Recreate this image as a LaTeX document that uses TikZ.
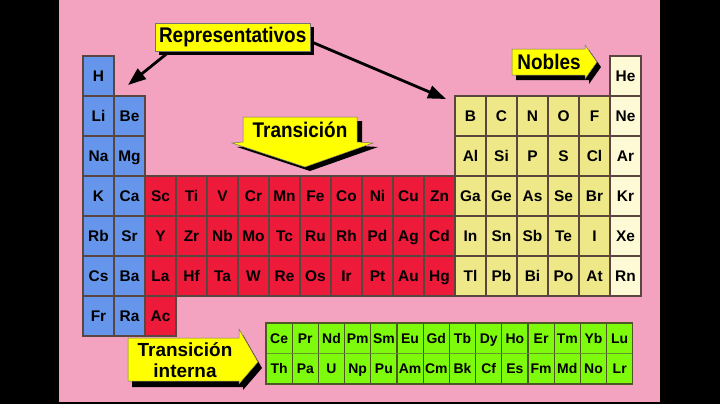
\documentclass[tikz,border=0pt]{standalone}
\usepackage{graphicx}
\usepackage{fontspec}
\setmainfont{Liberation Sans}
\usetikzlibrary{arrows.meta}
\definecolor{pinkbg}{RGB}{243,163,192}
\definecolor{bluec}{RGB}{102,150,236}
\definecolor{redc}{RGB}{238,26,58}
\definecolor{yelc}{RGB}{238,232,136}
\definecolor{noblec}{RGB}{255,250,214}
\definecolor{greenc}{RGB}{126,250,12}
\definecolor{cellline}{RGB}{90,70,62}
\definecolor{lanline}{RGB}{78,88,36}
\definecolor{lanmid}{RGB}{100,150,40}
\definecolor{labyel}{RGB}{255,255,0}
\newcommand\pelem[4]{\node[cell,fill=#4] (#1) at ({83+31*(#2-1)},{56+40*(#3-1)}) {#1};}
\newcommand\plan[3]{\node[lancell] (#1) at ({266+26.2*(#2-1)},{323+30.5*(#3-1)}) {#1};}
\newcommand\tallt[1]{\scalebox{1}[1.12]{#1}}
\begin{document}
\begin{tikzpicture}[x=1bp,y=-1bp,
  cell/.style={draw=cellline,line width=1.4bp,minimum width=31bp,minimum height=40bp,
    inner sep=0pt,outer sep=0pt,anchor=north west,text height=11bp,text depth=0pt,
    font=\bfseries\fontsize{15.5}{15.5}\selectfont},
  lancell/.style={draw=lanline,fill=greenc,line width=1.2bp,minimum width=26.2bp,minimum height=30.5bp,
    inner sep=0pt,outer sep=0pt,anchor=north west,text height=10bp,text depth=0pt,
    font=\bfseries\fontsize{14}{14}\selectfont},
  labtext/.style={font=\bfseries\fontsize{19}{20}\selectfont,text=black,inner sep=0pt,align=center},
  bigarrow/.style={draw=black,line width=2.8bp,-{Triangle[length=18bp,width=13bp]}},
  shadowc/.style={fill=black},
  yelfill/.style={fill=labyel,draw=black!55,line width=0.5bp}]
% background
\fill[black] (0,0) rectangle (720,404);
\fill[pinkbg] (59,0) rectangle (660,402);
\useasboundingbox (0,0) rectangle (720,404);
% elements: row 1
\pelem{H}{1}{1}{bluec}
\pelem{He}{18}{1}{noblec}
% row 2
\pelem{Li}{1}{2}{bluec}\pelem{Be}{2}{2}{bluec}
\foreach \s [count=\i from 13] in {B,C,N,O,F} {\pelem{\s}{\i}{2}{yelc}}
\pelem{Ne}{18}{2}{noblec}
% row 3
\pelem{Na}{1}{3}{bluec}\pelem{Mg}{2}{3}{bluec}
\foreach \s [count=\i from 13] in {Al,Si,P,S,Cl} {\pelem{\s}{\i}{3}{yelc}}
\pelem{Ar}{18}{3}{noblec}
% row 4
\pelem{K}{1}{4}{bluec}\pelem{Ca}{2}{4}{bluec}
\foreach \s [count=\i from 3] in {Sc,Ti,V,Cr,Mn,Fe,Co,Ni,Cu,Zn} {\pelem{\s}{\i}{4}{redc}}
\foreach \s [count=\i from 13] in {Ga,Ge,As,Se,Br} {\pelem{\s}{\i}{4}{yelc}}
\pelem{Kr}{18}{4}{noblec}
% row 5
\pelem{Rb}{1}{5}{bluec}\pelem{Sr}{2}{5}{bluec}
\foreach \s [count=\i from 3] in {Y,Zr,Nb,Mo,Tc,Ru,Rh,Pd,Ag,Cd} {\pelem{\s}{\i}{5}{redc}}
\foreach \s [count=\i from 13] in {In,Sn,Sb,Te,I} {\pelem{\s}{\i}{5}{yelc}}
\pelem{Xe}{18}{5}{noblec}
% row 6
\pelem{Cs}{1}{6}{bluec}\pelem{Ba}{2}{6}{bluec}
\foreach \s [count=\i from 3] in {La,Hf,Ta,W,Re,Os,Ir,Pt,Au,Hg} {\pelem{\s}{\i}{6}{redc}}
\foreach \s [count=\i from 13] in {Tl,Pb,Bi,Po,At} {\pelem{\s}{\i}{6}{yelc}}
\pelem{Rn}{18}{6}{noblec}
% row 7
\pelem{Fr}{1}{7}{bluec}\pelem{Ra}{2}{7}{bluec}\pelem{Ac}{3}{7}{redc}
% inner transition
\foreach \s [count=\i] in {Ce,Pr,Nd,Pm,Sm,Eu,Gd,Tb,Dy,Ho,Er,Tm,Yb,Lu} {\plan{\s}{\i}{1}}
\foreach \s [count=\i] in {Th,Pa,U,Np,Pu,Am,Cm,Bk,Cf,Es,Fm,Md,No,Lr} {\plan{\s}{\i}{2}}
\draw[lanmid,line width=0.8bp] (Ce.south west) -- (Lu.south east);
\draw[lanline,line width=1.2bp] (Ce.north west) rectangle (Lr.south east);
% Representativos label and its arrows
\coordinate (repL) at (128,85);
\coordinate (repR) at (446,99);
\node[labtext,minimum width=155bp,minimum height=28bp,anchor=north west] (rep) at (155,23) {\phantom{Representativos}};
\draw[bigarrow] ([xshift=22bp,yshift=6bp]rep.south west) -- (repL);
\draw[bigarrow] ([xshift=-10bp]rep.east) -- (repR);
\fill[shadowc] ([xshift=4bp,yshift=-4bp]rep.north west) rectangle ([xshift=4bp,yshift=-4bp]rep.south east);
\filldraw[yelfill] (rep.north west) rectangle (rep.south east);
\node[labtext] at (rep.center) {\tallt{Representativos}};
% Transicion block arrow
\fill[shadowc,shift={(5,4)}] (243,117) -- (357,117) -- (357,142) -- (373,143) -- (305,167) -- (232,143) -- (243,142) -- cycle;
\filldraw[yelfill] (243,117) -- (357,117) -- (357,142) -- (373,143) -- (305,167) -- (232,143) -- (243,142) -- cycle;
\node[labtext] (trans) at (300,130) {\tallt{Transición}};
% Nobles block arrow
\fill[shadowc,shift={(4,5)}] (512,49) -- (585,49) -- (585,45) -- (597,62) -- (585,79) -- (585,75) -- (512,75) -- cycle;
\filldraw[yelfill] (512,49) -- (585,49) -- (585,45) -- (597,62) -- (585,79) -- (585,75) -- (512,75) -- cycle;
\node[labtext] (nob) at (549,62) {\tallt{Nobles}};
% Transicion interna block arrow
\fill[shadowc,shift={(4,6)}] (128,338) -- (239,338) -- (239,329) -- (258,362) -- (239,384) -- (239,381) -- (128,381) -- cycle;
\filldraw[yelfill] (128,338) -- (239,338) -- (239,329) -- (258,362) -- (239,384) -- (239,381) -- (128,381) -- cycle;
\node[labtext] (tint) at (185,360) {Transición\\[1bp]interna};
\end{tikzpicture}
\end{document}
